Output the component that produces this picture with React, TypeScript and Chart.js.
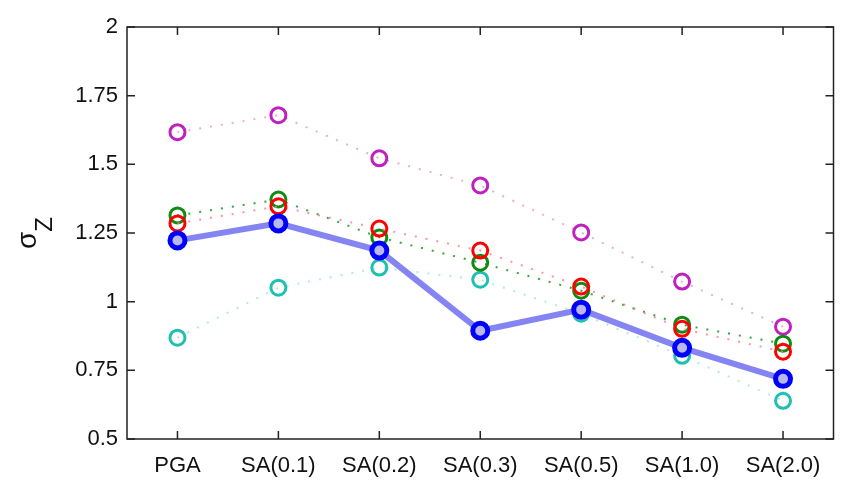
import React, { useEffect, useRef } from "react";
import { Chart, registerables } from "chart.js";

Chart.register(...registerables);

const categories = ["PGA", "SA(0.1)", "SA(0.2)", "SA(0.3)", "SA(0.5)", "SA(1.0)", "SA(2.0)"];
const blueValues = [1.223, 1.285, 1.186, 0.894, 0.971, 0.832, 0.719];
const redValues = [1.285, 1.347, 1.266, 1.186, 1.055, 0.901, 0.818];
const greenValues = [1.314, 1.372, 1.234, 1.142, 1.04, 0.916, 0.847];
const magentaValues = [1.617, 1.679, 1.522, 1.423, 1.252, 1.073, 0.909];
const cyanValues = [0.869, 1.051, 1.124, 1.08, 0.956, 0.803, 0.639];
const yTicks = [0.5, 0.75, 1, 1.25, 1.5, 1.75, 2];

const FONT = "'Liberation Sans', Arial, sans-serif";

const framePlugin = {
  id: "frame",
  beforeDatasetsDraw(chart: any) {
    const { ctx, chartArea, scales } = chart;
    const { left, right, top, bottom } = chartArea;
    ctx.save();
    ctx.strokeStyle = "#222";
    ctx.lineWidth = 1.5;
    ctx.strokeRect(left, top, right - left, bottom - top);
    const tl = 8;
    ctx.beginPath();
    categories.forEach((_, i) => {
      const x = scales.x.getPixelForValue(i);
      ctx.moveTo(x, bottom);
      ctx.lineTo(x, bottom - tl);
      ctx.moveTo(x, top);
      ctx.lineTo(x, top + tl);
    });
    yTicks.forEach((v) => {
      const y = scales.y.getPixelForValue(v);
      ctx.moveTo(left, y);
      ctx.lineTo(left + tl, y);
      ctx.moveTo(right, y);
      ctx.lineTo(right - tl, y);
    });
    ctx.stroke();
    ctx.restore();
  },
  afterDraw(chart: any) {
    const { ctx, chartArea } = chart;
    const cy = (chartArea.top + chartArea.bottom) / 2;
    ctx.save();
    ctx.translate(36, cy + 16);
    ctx.rotate(-Math.PI / 2);
    ctx.fillStyle = "#111";
    ctx.textBaseline = "alphabetic";
    ctx.textAlign = "left";
    ctx.font = `28px ${FONT}`;
    ctx.fillText("σ", 0, 0);
    const w = ctx.measureText("σ").width;
    ctx.font = `24px ${FONT}`;
    ctx.fillText("Z", w, 16);
    ctx.restore();
  },
};

function ring(color: string, lineColor: string, order: number, data: number[], label: string) {
  return {
    label,
    data,
    order,
    borderColor: lineColor,
    borderWidth: 2,
    borderDash: [2, 9],
    pointRadius: 7.5,
    pointBorderWidth: 3,
    pointBorderColor: color,
    pointBackgroundColor: "rgba(0,0,0,0)",
    pointStyle: "circle",
    fill: false,
    tension: 0,
  };
}

export default function App() {
  const ref = useRef<HTMLCanvasElement>(null);
  useEffect(() => {
    const chart = new Chart(ref.current!, {
      type: "line",
      data: {
        labels: categories,
        datasets: [
          {
            label: "blue",
            data: blueValues,
            order: 0,
            borderColor: "rgba(110,110,240,0.85)",
            borderWidth: 6,
            pointRadius: 7.5,
            pointBorderWidth: 5,
            pointBorderColor: "#0000ff",
            pointBackgroundColor: "#b8b8ee",
            fill: false,
            tension: 0,
          } as any,
          ring("#ff0000", "rgba(255,120,140,0.8)", 1, redValues, "red"),
          ring("#108a10", "rgba(30,160,30,0.9)", 2, greenValues, "green"),
          ring("#c020c0", "rgba(220,140,200,0.7)", 3, magentaValues, "magenta"),
          ring("#20c0b0", "rgba(120,220,230,0.6)", 4, cyanValues, "cyan"),
        ],
      },
      options: {
        responsive: false,
        animation: false,
        layout: { padding: { top: 27, right: 11, left: 0, bottom: 0 } },
        plugins: { legend: { display: false }, tooltip: { enabled: false } },
        scales: {
          x: {
            type: "category",
            offset: true,
            grid: { display: false, drawTicks: false },
            border: { display: false },
            ticks: {
              padding: 14,
              color: "#111",
              font: { family: FONT, size: 22 },
              maxRotation: 0,
              autoSkip: false,
            },
            afterFit(scale: any) {
              scale.height = 51;
            },
          },
          y: {
            min: 0.5,
            max: 2,
            grid: { display: false, drawTicks: false },
            border: { display: false },
            ticks: {
              stepSize: 0.25,
              padding: 9,
              color: "#111",
              font: { family: FONT, size: 22 },
              callback: (v: any) => String(Number(v)),
            },
            afterFit(scale: any) {
              scale.width = 127;
            },
          },
        },
      } as any,
      plugins: [framePlugin],
    });
    return () => chart.destroy();
  }, []);
  return (
    <div style={{ position: "fixed", left: 0, top: 0, width: 846, height: 490, background: "#fff" }}>
      <canvas ref={ref} width={846} height={490} />
    </div>
  );
}
